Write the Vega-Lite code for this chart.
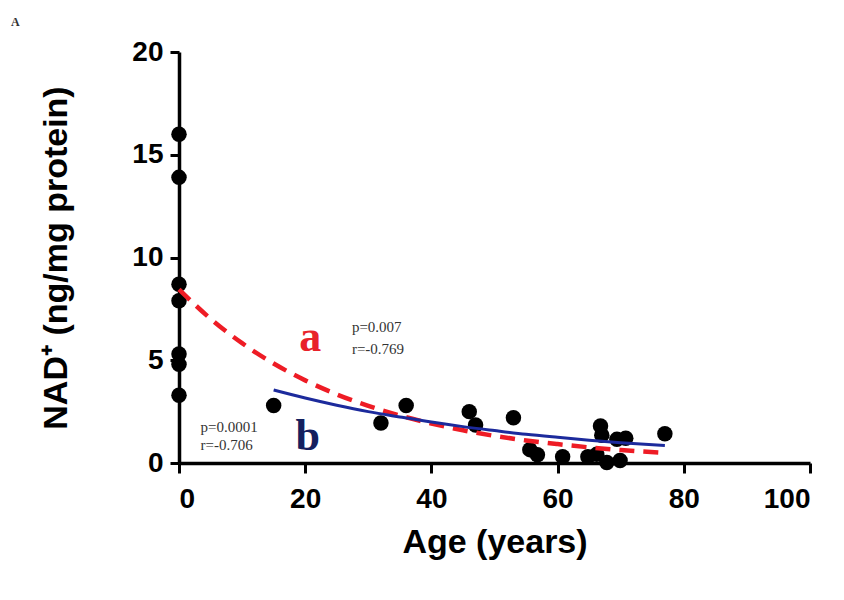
{
  "$schema": "https://vega.github.io/schema/vega-lite/v6.json",
  "width": 631,
  "height": 411,
  "autosize": {"type": "none"},
  "padding": {"left": 179, "top": 52, "right": 34, "bottom": 137},
  "background": "white",
  "title": {"text": "A", "anchor": "start", "frame": "group", "dx": -168, "offset": 9, "fontSize": 12, "font": "Liberation Serif", "fontWeight": "bold", "color": "#333"},
  "config": {
    "view": {"stroke": null},
    "axis": {"grid": false, "domainColor": "black", "domainWidth": 3.5, "tickColor": "black", "tickWidth": 3, "tickSize": 10, "labelFont": "Liberation Sans", "labelFontWeight": "bold", "labelFontSize": 28, "labelColor": "black", "titleFont": "Liberation Sans", "titleFontWeight": "bold", "titleColor": "black"}
  },
  "datasets": {
    "pts": [
      {"age": 0, "nad": 16.0}, {"age": 0, "nad": 13.9}, {"age": 0, "nad": 8.7}, {"age": 0, "nad": 7.9},
      {"age": 0, "nad": 5.3}, {"age": 0, "nad": 4.8}, {"age": 0, "nad": 3.3},
      {"age": 15, "nad": 2.8}, {"age": 32, "nad": 1.95}, {"age": 36, "nad": 2.8},
      {"age": 46, "nad": 2.5}, {"age": 47, "nad": 1.85}, {"age": 53, "nad": 2.2},
      {"age": 55.6, "nad": 0.65}, {"age": 56.8, "nad": 0.4}, {"age": 60.8, "nad": 0.3},
      {"age": 64.8, "nad": 0.3}, {"age": 66.2, "nad": 0.42}, {"age": 66.8, "nad": 1.8},
      {"age": 67, "nad": 1.35}, {"age": 67.8, "nad": 0.02}, {"age": 69.4, "nad": 1.15},
      {"age": 69.9, "nad": 0.12}, {"age": 70.8, "nad": 1.2}, {"age": 77, "nad": 1.42}
    ],
    "curves": [
      {"series": "a", "age": 0, "nad": 8.45}, {"series": "a", "age": 5, "nad": 7.02}, {"series": "a", "age": 10, "nad": 5.83},
      {"series": "a", "age": 15, "nad": 4.84}, {"series": "a", "age": 20, "nad": 4.02}, {"series": "a", "age": 25, "nad": 3.34},
      {"series": "a", "age": 30, "nad": 2.78}, {"series": "a", "age": 35, "nad": 2.31}, {"series": "a", "age": 40, "nad": 1.92},
      {"series": "a", "age": 45, "nad": 1.59}, {"series": "a", "age": 50, "nad": 1.32}, {"series": "a", "age": 55, "nad": 1.1},
      {"series": "a", "age": 60, "nad": 0.92}, {"series": "a", "age": 65, "nad": 0.76}, {"series": "a", "age": 70, "nad": 0.63},
      {"series": "a", "age": 77, "nad": 0.49},
      {"series": "b", "age": 15, "nad": 3.55}, {"series": "b", "age": 20, "nad": 3.16}, {"series": "b", "age": 25, "nad": 2.81},
      {"series": "b", "age": 30, "nad": 2.5}, {"series": "b", "age": 35, "nad": 2.24}, {"series": "b", "age": 40, "nad": 1.99},
      {"series": "b", "age": 45, "nad": 1.77}, {"series": "b", "age": 50, "nad": 1.58}, {"series": "b", "age": 55, "nad": 1.4},
      {"series": "b", "age": 60, "nad": 1.25}, {"series": "b", "age": 65, "nad": 1.11}, {"series": "b", "age": 70, "nad": 0.99},
      {"series": "b", "age": 77, "nad": 0.85}
    ],
    "letters": [
      {"label": "a", "age": 20.8, "nad": 6.08},
      {"label": "b", "age": 20.4, "nad": 1.27}
    ],
    "stats": [
      {"label": "p=0.007", "age": 27.4, "nad": 6.62},
      {"label": "r=-0.769", "age": 27.4, "nad": 5.55},
      {"label": "p=0.0001", "age": 3.4, "nad": 1.75},
      {"label": "r=-0.706", "age": 3.4, "nad": 0.88}
    ]
  },
  "layer": [
    {
      "data": {"name": "pts"},
      "mark": {"type": "circle", "size": 240, "color": "black", "opacity": 1},
      "encoding": {
        "x": {"field": "age", "type": "quantitative", "scale": {"domain": [0, 100], "nice": false},
              "axis": {"values": [0, 20, 40, 60, 80, 100], "title": "Age (years)", "titleFontSize": 34, "titlePadding": 12, "labelPadding": 12}},
        "y": {"field": "nad", "type": "quantitative", "scale": {"domain": [0, 20], "nice": false},
              "axis": {"values": [0, 5, 10, 15, 20], "title": "NAD⁺ (ng/mg protein)", "titleFontSize": 34, "titlePadding": 58, "labelPadding": 7, "tickSize": 9}}
      }
    },
    {
      "data": {"name": "curves"},
      "transform": [{"filter": "datum.series === 'a'"}],
      "mark": {"type": "line", "color": "#ee1c25", "strokeWidth": 4.5, "strokeDash": [15, 9], "interpolate": "monotone"},
      "encoding": {
        "x": {"field": "age", "type": "quantitative"},
        "y": {"field": "nad", "type": "quantitative"}
      }
    },
    {
      "data": {"name": "curves"},
      "transform": [{"filter": "datum.series === 'b'"}],
      "mark": {"type": "line", "color": "#1c2a9c", "strokeWidth": 3, "interpolate": "monotone"},
      "encoding": {
        "x": {"field": "age", "type": "quantitative"},
        "y": {"field": "nad", "type": "quantitative"}
      }
    },
    {
      "data": {"name": "letters"},
      "mark": {"type": "text", "font": "Liberation Serif", "fontWeight": "bold", "fontSize": 44, "align": "center", "baseline": "middle"},
      "encoding": {
        "x": {"field": "age", "type": "quantitative"},
        "y": {"field": "nad", "type": "quantitative"},
        "text": {"field": "label"},
        "color": {"field": "label", "type": "nominal", "scale": {"domain": ["a", "b"], "range": ["#e8222a", "#14205e"]}, "legend": null}
      }
    },
    {
      "data": {"name": "stats"},
      "mark": {"type": "text", "font": "Liberation Serif", "fontSize": 15, "align": "left", "baseline": "middle", "color": "#333333"},
      "encoding": {
        "x": {"field": "age", "type": "quantitative"},
        "y": {"field": "nad", "type": "quantitative"},
        "text": {"field": "label"}
      }
    }
  ]
}
